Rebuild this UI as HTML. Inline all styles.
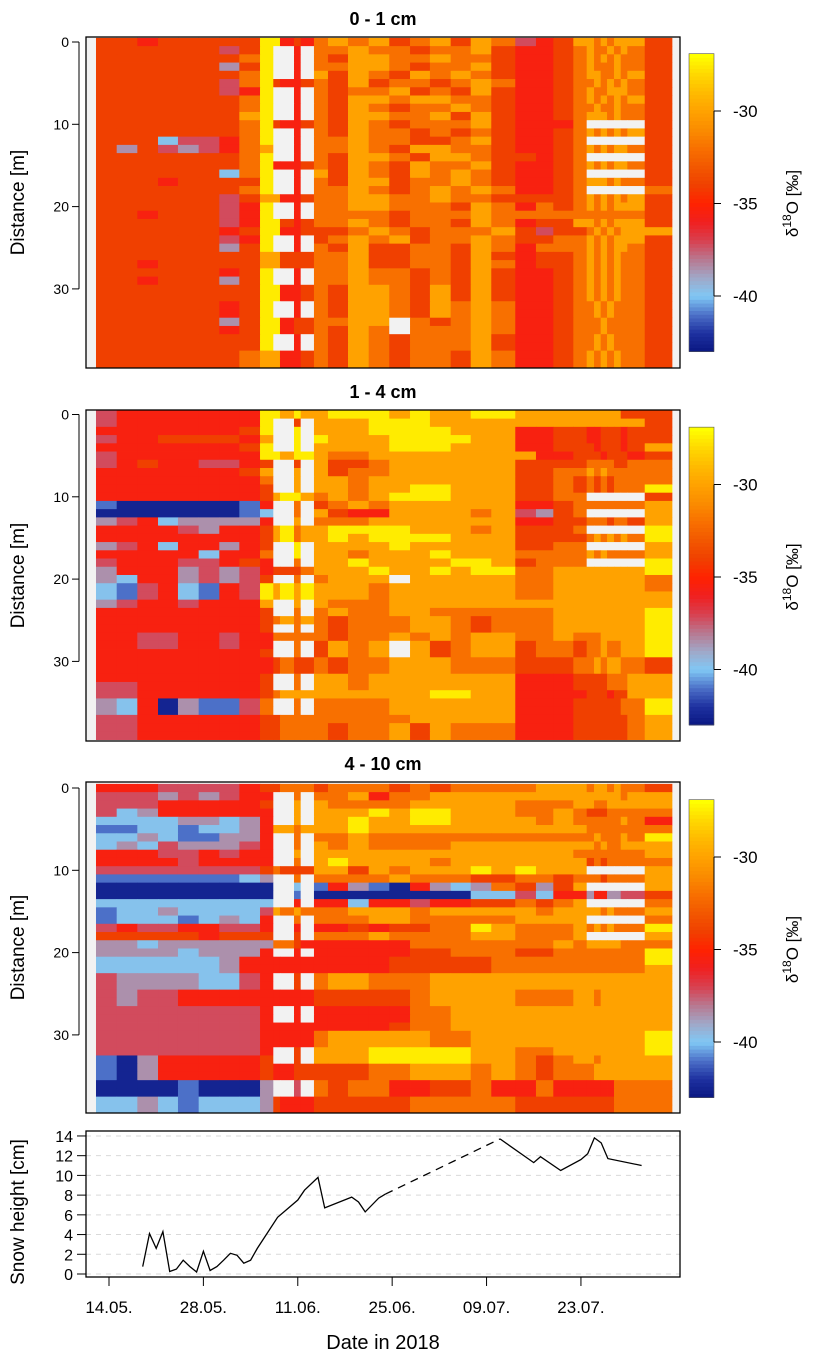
<!DOCTYPE html>
<html><head><meta charset="utf-8"><style>
html,body{margin:0;padding:0;background:#fff;}
svg{display:block;font-family:"Liberation Sans",Arial,sans-serif;}
</style></head><body>
<svg id="chart" width="815" height="1359" viewBox="0 0 815 1359" xmlns="http://www.w3.org/2000/svg"></svg>
<script>
// ---------- DATA ----------
const colEdgeDays = [-1.93,1.14,4.2,7.27,10.23,13.3,16.36,19.33,22.4,24.37,25.36,27.44,28.43,30.4,32.48,35.45,38.52,41.57,44.65,47.6,50.68,53.65,56.7,60.26,63.33,65.9,68.87,70.85,71.94,72.93,73.87,74.9,75.9,76.88,79.46,83.5];
const levelValues = [-42.5,-41,-39.8,-38.5,-37.2,-35.5,-34,-32,-30,-27.5];
const panelTitles = ["0 - 1 cm","1 - 4 cm","4 - 10 cm"];
const distTicks = [0,10,20,30];
const cbTicks = [-30,-35,-40];
const dateTickDays = [0,14,28,42,56,70];
const dateTickLabels = ["14.05.","28.05.","11.06.","25.06.","09.07.","23.07."];
const snowTicks = [0,2,4,6,8,10,12,14];
const snowDays1 = [5,6,7,8,9,10,11,12,13,14,15,16,17,18,19,20,21,22,25,28,29,31,32,36,37,38,40,41];
const snowVals1 = [0.75,4.1,2.6,4.3,0.25,0.5,1.4,0.75,0.2,2.3,0.35,0.75,1.4,2.1,1.9,1.1,1.4,2.6,5.75,7.5,8.5,9.8,6.7,7.8,7.3,6.3,7.7,8.1];
const snowGapDays = [41,58];
const snowGapVals = [8.1,13.7];
const snowDays2 = [58,63,64,67,70,71,72,73,74,79];
const snowVals2 = [13.7,11.3,11.9,10.5,11.6,12.2,13.8,13.3,11.7,11.0];

const p1 = [
"66566666995657878678687456887878886","666666469..5.7787767786556787787876","666666679..5.7688778776556787878776","666666369..5.7788767786556787778776","666666679..5.8687687876556788778786",
"66666647965567686776787556778787876","666666459..5.7677867686556787788876","666666679..5.7688788776556787878786","666666679..5.7687677876556778778776","666666689..5.7688778686556788878776",
"666666679655676876777865557.......6","666666679..5.7687767676556787878786","666244579..5.77877667865567.......6","636434578..5.7787688776556787878876","666666679..5.76887688766567.......6",
"66666667955567687687786556787878876","666666279..5.86876878765567.......6","666566669..5.7688677876556788878776","666666679..5.77876787875567.......7","66666646885567788778776666787878786",
"666666459..5.7788777687576787878886","665666459..5.7777677787777777777776","66666645996567787677687566887878886","666666569955666787677786466787878886".slice(0,35),"666666459..5.6787867787667787878886",
"666666369..5.7686677687577787878876","66666666886667786677686566787878776","66566666886667786677687566787878776","666666569..5.7787767686556787878776","665666369..5.7787767686556787878776",
"66666666995567688768686556787878776","66666666995567688768686556787878776","666666569..5.7688768787556778787776","666666569..5.7688768787556778787776","66666636995667788.76787556777877776",
"66666656995667687.77787556777877776","666666669..5.7687677786556778787776","666666669..5.7687677786556778787776","66666667885567687677687556787878776","66666667885567687677687556787878776"
];
const p2 = [
"45555555998988999898899888888888666","455555559..6.8889998888888888888886","555555569..9.8889999888556655666566","455666658..9.9888999988556655666566","555555569..9.8888999888556665666568",
"455555559989987788888888556665666565","456554456..6.8667888888666677776677","555555568..8.8677888888667787877777","555555557..8.8878888888667676767777","555555556..8.8878899888667676767779",
"55555555689987878999888667.......6".replace('667.','6677.').slice(0,35),"100000015..7.6787888888556777777778","000000012..7.86558888784367.......8","345233335..8.7778888888556677767768","555543556897889999888786667.......9",
"55555555689788989999888666678787879","345255356..9.88889888886677.......8","555552557..9.8878889888777787877778","455544565..7.88988889986777.......9","35553434566678889889899778888888889",
"325534346..7.7888.88888778888888887","21452154989898887888888778888888887","21452154989898887888888778888888888","345545558..8.8777888888888888888888","555555556..7.7877887777778888888889",
"55555555678787677788767778888888889","555555556..7.7677788767778888888889","55445545577777677878788778777888889","554455455..7.6878.86788677677877889","555555556..7.6878.86788677677877889",
"55555555567667677888777666778788776","55555555567667677888777666778788776","555555556..7.8878888888555666677788","445555556..7.8878888888555666677788","44555555678888888889988555566656688",
"325031147..7.7777888888555666666779","325031147..7.7777888888555666666779","44555555667777777788888555666666678","44555555667777677868777555666666678","44555555667777677868777555666666678"
];
const p3 = [
"55544445667776777676777788878878776","444343455..7.7785778888888888888788","444555556..8.8777788888777887788888","423555555..8.8889899888778766677777","222233235..8.8898899888878777777875",
"112212235887888988888888888777777777","223211335..7.7787777777777778777879","232433345..7.8787777888888887877888","555445455..8.8888888888888777777778","555545555..7.8988887888888867677777",
"444444446766688687888989888.......8","111111123..7.7777877766776777677778","000000000..2.15310532376368.......8","000000000..1.0000000022425535533446","222222222..5.55255455667678.......7",
"12232222487877788878888878888787777".slice(0,34)+"8","122212325..7.77788777778888.......7","454455445..5.5565667798777878787779","666665666..6.77787777887778.......8","332333333776555555777777787888887778",
"333323335..5.5555566777667777777779","22222235555555555666667777777777779","22222235555555555666667777777777778","433332245..6.7887778888888888888888","433332245..6.7887778888888888888888",
"43445555555556666678888777887888888","43445555555556666678888777887888888","444444445..5.5555577888888888888888","444444445..5.5555577888888888888888","44444444555555555677888888888888888",
"44444444555557888887788888888888889","44444444555557888887788888888888889","444444445..6.8889999988778888888889","103555556..6.8889999988767887888888","10355555655666667788878767778888888",
"10355555655666667788878767778888888","000010003..4.7677556675575555557777","000010003..4.7677556675575555557777","22321222365556666677777666666667777","22321222365556666677777666666667777"
];
const panelData = [p1,p2,p3];

// ---------- LAYOUT ----------
const NS="http://www.w3.org/2000/svg";
const svg=document.getElementById('chart');
const X0=109, PXDAY=6.742;
function xScale(d){return X0+d*PXDAY;}
const PXM=8.23;
const panelY0=[42,414.5,788];
const panelTop=[37,410,782], panelBot=[368,741,1113];
const boxL=86, boxR=680;
const cbOff=[0,373.5,746];
function cbY(v,p){return 111+cbOff[p]+(-30-v)*18.5;}
function mk(tag,attrs,parent){const e=document.createElementNS(NS,tag);for(const k in attrs)e.setAttribute(k,attrs[k]);(parent||svg).appendChild(e);return e;}

const cStops=[[-43,[10,24,130]],[-42,[30,48,160]],[-41,[76,112,200]],[-40,[128,200,245]],[-39,[160,168,200]],[-38,[184,120,144]],[-37,[216,64,80]],[-36,[240,32,32]],[-35,[255,34,0]],[-34,[240,64,0]],[-33,[242,88,0]],[-32,[248,112,0]],[-31,[250,140,0]],[-30,[255,162,0]],[-29,[255,186,0]],[-28,[255,216,0]],[-27,[255,255,0]]];
function color(v){
  if(v<=cStops[0][0])return 'rgb('+cStops[0][1]+')';
  for(let i=1;i<cStops.length;i++){if(v<=cStops[i][0]){const a=cStops[i-1],b=cStops[i];const t=(v-a[0])/(b[0]-a[0]);return 'rgb('+a[1].map((c,j)=>Math.round(c+(b[1][j]-c)*t)).join(',')+')';}}
  return 'rgb(255,255,0)';
}

// ---------- PANELS ----------
panelData.forEach((rows,p)=>{
  const g=mk('g',{});
  
  
  const bg=mk('rect',{x:boxL,y:panelTop[p],width:boxR-boxL,height:panelBot[p]-panelTop[p],fill:'#f2f2f2'},g);
  
  
  rows.forEach((s,r)=>{
    for(let c=0;c<colEdgeDays.length-1;c++){
      const ch=s[c]; if(ch===undefined)continue;
      const x1=xScale(colEdgeDays[c]), x2=xScale(colEdgeDays[c+1]);
      const y1=panelY0[p]+(r-0.5)*PXM, y2=panelY0[p]+(r+0.5)*PXM;
      const fill = ch==='.' ? '#f2f2f2' : color(levelValues[+ch]);
      const rc=mk('rect',{x:x1.toFixed(2),y:Math.max(y1,panelTop[p]).toFixed(2),width:(x2-x1+0.4).toFixed(2),height:(Math.min(y2,panelBot[p])-Math.max(y1,panelTop[p])+0.4).toFixed(2),fill:fill},g);
      
      
    }
  });
  const fr=mk('rect',{x:boxL,y:panelTop[p],width:boxR-boxL,height:panelBot[p]-panelTop[p],fill:'none',stroke:'#000','stroke-width':1.3},g);
  
  
  const t=mk('text',{x:383,y:panelTop[p]-12,'text-anchor':'middle','font-size':18,'font-weight':'bold'},g);
  t.textContent=panelTitles[p];
  
  
  const ax=mk('line',{x1:79,x2:79,y1:panelY0[p],y2:panelY0[p]+30*PXM,stroke:'#000','stroke-width':1},g);
  
  
  distTicks.forEach(d=>{
    const y=panelY0[p]+d*PXM;
    const tk=mk('line',{x1:72,x2:79,y1:y,y2:y,stroke:'#000'},g);
    
    
    const tl=mk('text',{x:69,y:y+5,'text-anchor':'end','font-size':14},g);
    tl.textContent=d;
    
    
  });
  const yt=mk('text',{x:0,y:0,'text-anchor':'middle','font-size':19,transform:'translate(24,'+((panelTop[p]+panelBot[p])/2)+') rotate(-90)'},g);
  yt.textContent='Distance [m]';
  
  
  const cbTopV=-26.9, cbBotV=-43;
  const nSeg=80;
  for(let i=0;i<nSeg;i++){
    const v1=cbBotV+(cbTopV-cbBotV)*i/nSeg, v2=cbBotV+(cbTopV-cbBotV)*(i+1)/nSeg;
    const ya=cbY(v2,p), yb=cbY(v1,p);
    const sr=mk('rect',{x:689,y:ya.toFixed(2),width:25,height:(yb-ya+0.5).toFixed(2),fill:color((v1+v2)/2)},g);
    
    
  }
  const cbf=mk('rect',{x:689,y:cbY(cbTopV,p),width:25,height:cbY(cbBotV,p)-cbY(cbTopV,p),fill:'none',stroke:'#555','stroke-width':0.6},g);
  
  
  const cba=mk('line',{x1:714,x2:714,y1:cbY(-30,p),y2:cbY(-40,p),stroke:'#000'},g);
  
  
  cbTicks.forEach(v=>{
    const y=cbY(v,p);
    const tk=mk('line',{x1:714,x2:721,y1:y,y2:y,stroke:'#000'},g);
    
    
    const tl=mk('text',{x:733,y:y+6,'font-size':17},g);
    tl.textContent=v;
    
    
  });
  const ct=mk('text',{x:0,y:0,'text-anchor':'middle','font-size':17,transform:'translate(798,'+cbY(-35,p)+') rotate(-90)'},g);
  ct.innerHTML='δ<tspan dy="-7" font-size="12">18</tspan><tspan dy="7">O [‰]</tspan>';
  
  
});

// ---------- SNOW CHART ----------
const sg=mk('g',{});


function sY(v){return 1274-v*9.86;}
snowTicks.forEach(v=>{
  const gl=mk('line',{x1:boxL,x2:boxR,y1:sY(v),y2:sY(v),stroke:'#d9d9d9','stroke-dasharray':'5,5'},sg);
  
  
  const tk=mk('line',{x1:77,x2:86,y1:sY(v),y2:sY(v),stroke:'#000'},sg);
  
  
  const tl=mk('text',{x:73,y:sY(v)+6,'text-anchor':'end','font-size':16},sg);
  tl.textContent=v;
  
  
});
const sax=mk('line',{x1:86,x2:86,y1:sY(0),y2:sY(14),stroke:'#000'},sg);


const sbox=mk('rect',{x:boxL,y:1131,width:boxR-boxL,height:146,fill:'none',stroke:'#000','stroke-width':1.3},sg);


function pts(ds,vs){return ds.map((d,i)=>xScale(d).toFixed(1)+','+sY(vs[i]).toFixed(1)).join(' ');}
const l1=mk('polyline',{points:pts(snowDays1,snowVals1),fill:'none',stroke:'#000','stroke-width':1.3},sg);


const l2=mk('polyline',{points:pts(snowGapDays,snowGapVals),fill:'none',stroke:'#000','stroke-width':1.3,'stroke-dasharray':'8,6'},sg);


const l3=mk('polyline',{points:pts(snowDays2,snowVals2),fill:'none',stroke:'#000','stroke-width':1.3},sg);


dateTickDays.forEach((d,i)=>{
  const x=xScale(d);
  const tk=mk('line',{x1:x,x2:x,y1:1277,y2:1286,stroke:'#000'},sg);
  
  
  const tl=mk('text',{x:x,y:1313,'text-anchor':'middle','font-size':17},sg);
  tl.textContent=dateTickLabels[i];
  
  
});
const xt=mk('text',{x:383,y:1349,'text-anchor':'middle','font-size':20},sg);
xt.textContent='Date in 2018';


const syt=mk('text',{x:0,y:0,'text-anchor':'middle','font-size':19,transform:'translate(24,1212) rotate(-90)'},sg);
syt.textContent='Snow height [cm]';


</script>
</body></html>
